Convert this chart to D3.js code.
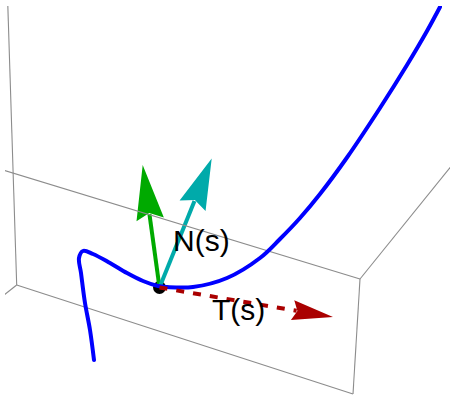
<!DOCTYPE html>
<html>
<head>
<meta charset="utf-8">
<script src="https://cdn.jsdelivr.net/npm/d3@7"></script>
<style>
  html, body { margin: 0; padding: 0; background: #fff; }
  svg { display: block; }
</style>
</head>
<body>
<svg id="chart" width="450" height="397"></svg>
<script>
// Space curve r(s), already projected onto the view plane (horizontal, vertical)
const curveU = [94, 90, 85, 81, 79, 83, 93, 110, 127, 143, 158, 167, 193, 227, 260, 280, 300, 320, 347, 380, 407, 427, 440];
const curveV = [360, 330, 303, 273, 258, 251, 254, 263, 273, 281, 286, 287, 287, 278, 258, 239, 218, 194, 157.5, 108, 65, 31, 7];

// Point r(s) on the curve where the frame is attached
const basePoint = [159.5, 287.5];

// Frame vectors: label, tip on the view plane, colour, dashed
const frameNames = ["T(s)", "N(s)", "B(s)"];
const frameTips = [[333, 317], [211.7, 158.5], [142.7, 165]];
const frameColors = ["#aa0000", "#00aaaa", "#00aa00"];
const frameDashed = [true, false, false];
const headLengths = [41, 51, 55];
const headHalfWidths = [10, 14, 13.8];

// Visible edges of the bounding box (start u, start v, end u, end v)
const boxEdges = [
  [7, -20, 16.7, 285],
  [-30, 160, 360, 279],
  [16.7, 285, 353, 394],
  [353, 394, 360, 279],
  [360, 279, 470, 143],
  [16.7, 285, -20, 314]
];

// Text labels drawn next to the vectors
const labelNames = ["N(s)", "T(s)"];
const labelPos = [[173, 251], [212, 320]];

const W = 450, H = 397;
const x = d3.scaleLinear().domain([0, 450]).range([0, W]);
const y = d3.scaleLinear().domain([0, 397]).range([0, H]);

const svg = d3.select("#chart");

svg.append("defs").append("clipPath").attr("id", "plotClip")
  .append("rect").attr("x", x(5)).attr("y", y(6))
  .attr("width", x(450) - x(5)).attr("height", y(397) - y(6));

const g = svg.append("g").attr("clip-path", "url(#plotClip)");

// point on the curve (drawn first so the curve and vectors sit on top)
g.append("circle")
  .attr("cx", x(basePoint[0])).attr("cy", y(basePoint[1]))
  .attr("r", 6.5).attr("fill", "#000");

function arrowHead(i) {
  const [bx, by] = basePoint;
  const [tx, ty] = frameTips[i];
  const dx = tx - bx, dy = ty - by;
  const len = Math.hypot(dx, dy);
  const ux = dx / len, uy = dy / len;
  const px = -uy, py = ux;
  const L = headLengths[i], hw = headHalfWidths[i];
  const mx = tx - ux * L, my = ty - uy * L;
  const nx = tx - ux * L * 0.88, ny = ty - uy * L * 0.88;
  return {
    shaftEnd: [tx - ux * L * 0.9, ty - uy * L * 0.9],
    poly: [[tx, ty], [mx + px * hw, my + py * hw], [nx, ny], [mx - px * hw, my - py * hw]]
  };
}

function drawArrow(layer, i) {
  const head = arrowHead(i);
  layer.append("line")
    .attr("x1", x(basePoint[0])).attr("y1", y(basePoint[1]))
    .attr("x2", x(head.shaftEnd[0])).attr("y2", y(head.shaftEnd[1]))
    .attr("stroke", frameColors[i]).attr("stroke-width", 4)
    .attr("stroke-dasharray", frameDashed[i] ? "8,9" : null);
  layer.append("polygon")
    .attr("points", head.poly.map(p => x(p[0]) + "," + y(p[1])).join(" "))
    .attr("fill", frameColors[i]);
}

// upright vectors
drawArrow(g, 2);
drawArrow(g, 1);

// bounding box edges
g.append("g").selectAll("line").data(boxEdges).join("line")
  .attr("x1", d => x(d[0])).attr("y1", d => y(d[1]))
  .attr("x2", d => x(d[2])).attr("y2", d => y(d[3]))
  .attr("stroke", "#8c8c8c").attr("stroke-width", 1.1);

// the space curve
const line = d3.line()
  .x((d, i) => x(curveU[i]))
  .y((d, i) => y(curveV[i]))
  .curve(d3.curveCatmullRom.alpha(0.5));

g.append("path")
  .attr("d", line(curveU))
  .attr("fill", "none")
  .attr("stroke", "#0000ff")
  .attr("stroke-width", 4)
  .attr("stroke-linecap", "round")
  .attr("stroke-linejoin", "round");

// tangent vector, dashed
drawArrow(g, 0);

// labels
g.append("g").selectAll("text").data(labelNames).join("text")
  .attr("x", (d, i) => x(labelPos[i][0]))
  .attr("y", (d, i) => y(labelPos[i][1]))
  .attr("font-family", "'Liberation Sans', Arial, sans-serif")
  .attr("font-size", 30)
  .attr("fill", "#000")
  .text(d => d);
</script>
</body>
</html>
